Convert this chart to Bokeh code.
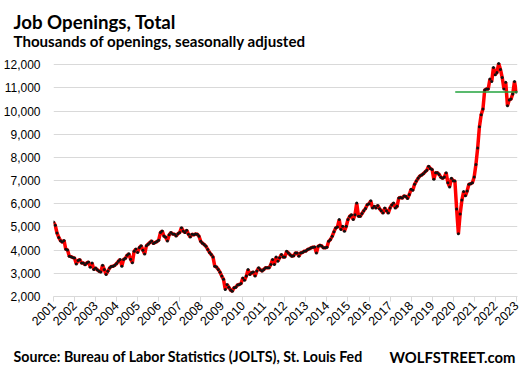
import math
from bokeh.plotting import figure
from bokeh.layouts import column
from bokeh.models import Range1d, FixedTicker, NumeralTickFormatter
from bokeh.core.properties import value
from bokeh.embed import file_html
from bokeh.resources import INLINE

# Job openings, thousands, seasonally adjusted, monthly from Jan 2001
jobs_2001 = [5210, 5070, 4740, 4550, 4410, 4350, 4420, 4040, 4010, 3740, 3720, 3680]
jobs_2002 = [3660, 3400, 3550, 3590, 3450, 3450, 3370, 3450, 3490, 3260, 3450, 3160]
jobs_2003 = [3230, 3150, 3090, 3060, 3350, 3160, 2950, 3090, 3230, 3300, 3310, 3350]
jobs_2004 = [3420, 3520, 3600, 3310, 3600, 3650, 3780, 3840, 3610, 3460, 3950, 4050]
jobs_2005 = [3900, 4110, 4190, 4000, 3830, 4190, 4260, 4330, 4400, 4290, 4330, 4370]
jobs_2006 = [4430, 4760, 4830, 4610, 4560, 4400, 4660, 4760, 4700, 4690, 4610, 4710]
jobs_2007 = [4760, 4970, 4830, 4760, 4860, 4690, 4570, 4690, 4660, 4700, 4690, 4600]
jobs_2008 = [4380, 4300, 4240, 4170, 4030, 3900, 3810, 3700, 3310, 3270, 3170, 3050]
jobs_2009 = [2880, 2740, 2300, 2520, 2400, 2280, 2230, 2380, 2400, 2500, 2520, 2560]
jobs_2010 = [2800, 2700, 2880, 3160, 2950, 3020, 3060, 2880, 3100, 3240, 3150, 3100]
jobs_2011 = [3170, 3240, 3240, 3240, 3380, 3600, 3380, 3700, 3520, 3670, 3810, 3700]
jobs_2012 = [3700, 3950, 3880, 3800, 3740, 3760, 3880, 3880, 3740, 3880, 3900, 3950]
jobs_2013 = [3960, 4030, 4060, 4100, 4130, 4140, 3880, 4170, 4210, 4180, 4100, 4100]
jobs_2014 = [4130, 4380, 4460, 4600, 4790, 4960, 5000, 5320, 4890, 5030, 4820, 5030]
jobs_2015 = [5320, 5460, 5530, 5320, 5530, 6030, 5460, 5460, 5580, 5700, 5800, 5960]
jobs_2016 = [6000, 6130, 5820, 5900, 5820, 5930, 5790, 5700, 5600, 5820, 5700, 5600]
jobs_2017 = [5820, 5950, 6030, 5820, 5890, 6250, 6270, 6250, 6340, 6320, 6230, 6400]
jobs_2018 = [6630, 6590, 6840, 6980, 7100, 7200, 7240, 7300, 7380, 7450, 7625, 7525]
jobs_2019 = [7480, 7055, 7340, 7340, 7270, 7150, 7100, 7155, 7340, 6913, 6728, 7098]
jobs_2020 = [7000, 6984, 5775, 4708, 5562, 6159, 6529, 6344, 6558, 6842, 6870, 6913]
jobs_2021 = [7155, 7700, 8409, 9328, 9845, 10089, 10908, 10951, 10951, 11382, 11282, 11885]
jobs_2022 = [11569, 11670, 12058, 11800, 11450, 10950, 11250, 10230, 10480, 10520, 10740, 11280]
jobs_2023 = [10824]

first_year = 2001
tick_years = list(range(2001, 2024))
y_ticks = [2000, 3000, 4000, 5000, 6000, 7000, 8000, 9000, 10000, 11000, 12000]
ref_line_start = 2020.1  # latest-value reference line starts here

title_text = "Job Openings, Total"
subtitle_text = "Thousands of openings, seasonally adjusted"
source_text = "Source: Bureau of Labor Statistics (JOLTS), St. Louis Fed"
brand_text = "WOLFSTREET.com"

values = (jobs_2001 + jobs_2002 + jobs_2003 + jobs_2004 + jobs_2005 + jobs_2006 +
          jobs_2007 + jobs_2008 + jobs_2009 + jobs_2010 + jobs_2011 + jobs_2012 +
          jobs_2013 + jobs_2014 + jobs_2015 + jobs_2016 + jobs_2017 + jobs_2018 +
          jobs_2019 + jobs_2020 + jobs_2021 + jobs_2022 + jobs_2023)
months = [first_year + i / 12 for i in range(len(values))]

W = 523
HEAD_H, MAIN_H, FOOT_H = 50, 288, 30


def text_strip(top, height):
    """A bare figure whose data coordinates equal page pixels."""
    f = figure(width=W, height=height, x_range=Range1d(0, W), y_range=Range1d(top + height, top),
               output_backend="svg", toolbar_location=None, x_axis_location=None,
               y_axis_location=None, min_border=0)
    f.grid.visible = False
    f.outline_line_color = None
    f.background_fill_color = "white"
    f.border_fill_color = "white"
    return f


head = text_strip(0, HEAD_H)
head.text(x=[13], y=[21], text=[title_text], text_font=value("Lato"), text_font_style="bold",
          text_font_size="18.7px", text_color="#000000", text_baseline="alphabetic")
head.text(x=[13], y=[40.7], text=[subtitle_text], text_font=value("Lato"), text_font_style="bold",
          text_font_size="15.1px", text_color="#000000", text_baseline="alphabetic")

foot = text_strip(HEAD_H + MAIN_H, FOOT_H)
foot.text(x=[13], y=[355.5], text=[source_text], text_font=value("Lato"), text_font_style="bold",
          text_font_size="14.2px", text_color="#000000", text_baseline="alphabetic")
foot.text(x=[515], y=[356], text=[brand_text], text_font=value("Lato"), text_font_style="bold",
          text_font_size="14.8px", text_color="#000000", text_baseline="alphabetic",
          text_align="right")

p = figure(width=W, height=MAIN_H,
           x_range=Range1d(2001.0, 2023.06), y_range=Range1d(2000, 12400),
           output_backend="svg", toolbar_location=None,
           min_border_left=52, min_border_right=6, min_border_top=5, min_border_bottom=42)
p.outline_line_color = None
p.background_fill_color = "white"
p.border_fill_color = "white"

grid_color = "#d9d9d9"
p.xgrid.grid_line_color = None
p.ygrid.grid_line_color = grid_color
p.ygrid.grid_line_width = 1

p.yaxis.ticker = FixedTicker(ticks=y_ticks)
p.yaxis.formatter = NumeralTickFormatter(format="0,0")
p.yaxis.axis_line_color = None
p.yaxis.major_tick_line_color = None
p.yaxis.major_tick_in = 0
p.yaxis.major_tick_out = 0
p.yaxis.minor_tick_line_color = None
p.yaxis.major_label_standoff = 13
p.yaxis.major_label_text_font = "Liberation Sans"
p.yaxis.major_label_text_font_size = "12px"
p.yaxis.major_label_text_color = "#000000"

p.xaxis.ticker = FixedTicker(ticks=tick_years)
p.xaxis.formatter = NumeralTickFormatter(format="0")
p.xaxis.axis_line_color = grid_color
p.xaxis.major_tick_line_color = grid_color
p.xaxis.major_tick_in = 0
p.xaxis.major_tick_out = 5
p.xaxis.minor_tick_line_color = None
p.xaxis.major_label_orientation = math.pi / 4
p.xaxis.major_label_standoff = 2
p.xaxis.major_label_text_font = "Liberation Sans"
p.xaxis.major_label_text_font_size = "12.5px"
p.xaxis.major_label_text_color = "#000000"

p.line(months, values, line_color="#ff0000", line_width=3.5)
p.scatter(months, values, size=3.0, fill_color="#111111", line_color=None)

last_val = values[-1]
p.line([ref_line_start, months[-1] + 0.2], [last_val, last_val], line_color="#22a33c", line_width=1.4)

# wrap the text strips so their frames are not aligned with the chart's frame
layout = column(column(head, spacing=0), p, column(foot, spacing=0), spacing=0)
open("out.html", "w").write(file_html(layout, INLINE))
